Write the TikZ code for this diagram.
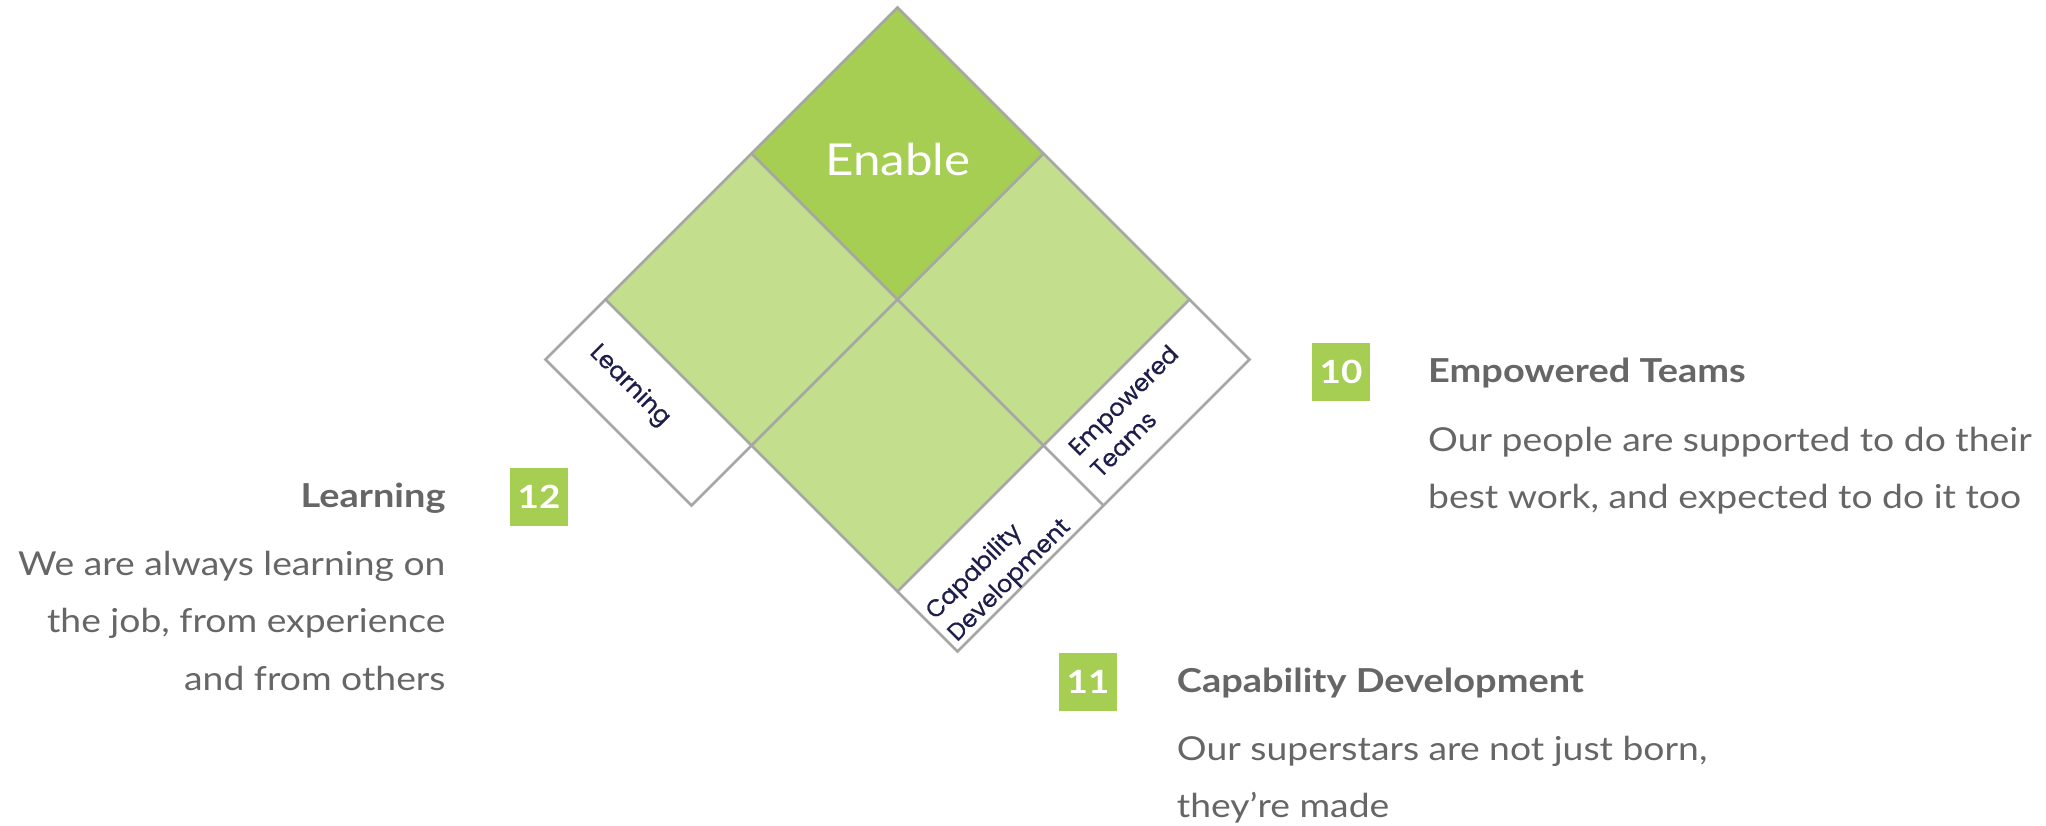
\documentclass[tikz,border=0pt]{standalone}
\usepackage{fontspec}
\setmainfont{Lato}
\newfontfamily\labelfont[FakeBold=0.6]{Poppins}
\newfontfamily\bodyfont[FakeStretch=1.13]{Lato}
\newfontfamily\titlefont[FakeStretch=1.15]{Lato}
\newfontfamily\enablefont[FakeStretch=1.12]{Lato}
\definecolor{dgreen}{HTML}{A6CE52}
\definecolor{lgreen}{HTML}{C3DF8D}
\definecolor{edgegray}{HTML}{A6A6A6}
\definecolor{txtgray}{HTML}{666666}
\definecolor{navy}{HTML}{1F1E4B}
\begin{document}
\begin{tikzpicture}[x=1pt,y=-1pt,
  outline/.style={draw=edgegray,line width=2.5pt,line join=miter},
  striplabel/.style={inner sep=0pt,text=navy,font=\labelfont\fontsize{24}{31}\selectfont,align=left},
  numbox/.style={fill=dgreen,minimum width=58pt,minimum height=58pt,inner sep=0pt,text=white,font=\titlefont\bfseries\fontsize{32}{38}\selectfont},
  title/.style={inner sep=0pt,text=txtgray,font=\titlefont\bfseries\fontsize{33}{40}\selectfont},
  body/.style={inner sep=0pt,text=txtgray,font=\bodyfont\fontsize{33}{40}\selectfont}]
\useasboundingbox (0,0) rectangle (2046,826);
% corner points
\coordinate (T) at (897.5,7.5);
\coordinate (EL) at (751.5,153.5);
\coordinate (ER) at (1043.5,153.5);
\coordinate (C) at (897.5,299.5);
\coordinate (L) at (605.5,299.5);
\coordinate (R) at (1189.5,299.5);
\coordinate (LB) at (751.5,445.5);
\coordinate (RB) at (1043.5,445.5);
\coordinate (B) at (897.5,591.5);
\coordinate (LO1) at (545.5,359.5);
\coordinate (LO2) at (691.5,505.5);
\coordinate (RO1) at (1249.5,359.5);
\coordinate (RO2) at (1103.5,505.5);
\coordinate (BO) at (957.5,651.5);
% fills
\fill[lgreen] (EL) -- (C) -- (LB) -- (L) -- cycle;
\fill[lgreen] (ER) -- (R) -- (RB) -- (C) -- cycle;
\fill[lgreen] (C) -- (RB) -- (B) -- (LB) -- cycle;
\fill[dgreen] (T) -- (ER) -- (C) -- (EL) -- cycle;
\fill[white] (L) -- (LB) -- (LO2) -- (LO1) -- cycle;
\fill[white] (R) -- (RO1) -- (RO2) -- (RB) -- cycle;
\fill[white] (RB) -- (RO2) -- (BO) -- (B) -- cycle;
% outlines
\draw[outline] (T) -- (R) -- (B) -- (L) -- cycle;
\draw[outline] (EL) -- (RB);
\draw[outline] (ER) -- (LB);
\draw[outline] (L) -- (LO1) -- (LO2) -- (LB);
\draw[outline] (R) -- (RO1) -- (RO2) -- (BO) -- (B);
\draw[outline] (RB) -- (RO2);
% diagram labels
\node[inner sep=0pt,text=white,font=\enablefont\fontsize{44}{50}\selectfont,anchor=base] (enable) at (898,176) {Enable};
\node[striplabel,rotate=-45] (learnlbl) at (629.7,386) {Learning};
\node[striplabel,rotate=45] (emplbl) at (1134,411) {Empowered\\Teams};
\node[striplabel,rotate=45] (caplbl) at (999,570) {Capability\\Development};
% number boxes
\node[numbox] (n12) at (539,497) {12};
\node[numbox] (n10) at (1341,371.7) {10};
\node[numbox] (n11) at (1088,681.8) {11};
% Learning text
\node[title,anchor=base east] (t12) at (445.7,507) {Learning};
\node[body,anchor=base east] (b12a) at (445.7,575) {We are always learning on};
\node[body,anchor=base east] (b12b) at (445.7,632.5) {the job, from experience};
\node[body,anchor=base east] (b12c) at (445.7,690) {and from others};
% Empowered text
\node[title,anchor=base west] (t10) at (1428,382.4) {Empowered Teams};
\node[body,anchor=base west] (b10a) at (1428,451) {Our people are supported to do their};
\node[body,anchor=base west] (b10b) at (1428,508) {best work, and expected to do it too};
% Capability text
\node[title,anchor=base west] (t11) at (1176.7,692.7) {Capability Development};
\node[body,anchor=base west] (b11a) at (1176.7,760) {Our superstars are not just born,};
\node[body,anchor=base west] (b11b) at (1176.7,817.5) {they’re made};
\end{tikzpicture}
\end{document}
